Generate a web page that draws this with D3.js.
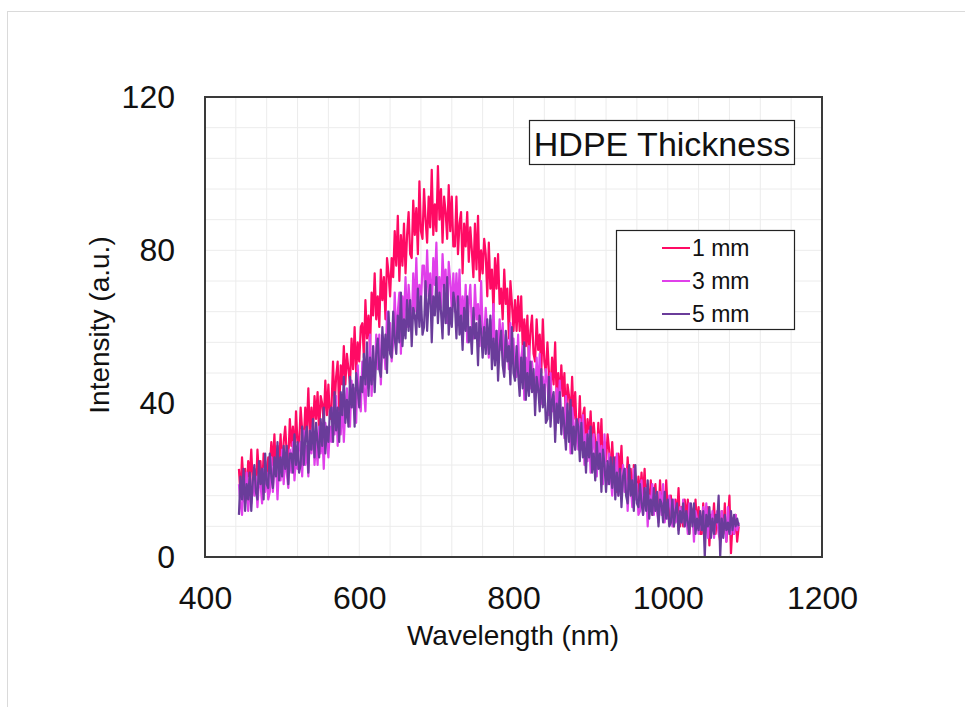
<!DOCTYPE html>
<html>
<head>
<meta charset="utf-8">
<script src="https://cdn.jsdelivr.net/npm/d3@7"></script>
<style>
  body { margin: 0; background: #fff; }
  svg { display: block; font-family: "Liberation Sans", Arial, sans-serif; }
</style>
</head>
<body>
<svg id="chart" width="965" height="707"></svg>
<script>
// wavelength grid of the spectrometer, 2 nm spacing (444 .. 1092 nm)
const wavelengths = d3.range(444, 1093, 2);

// intensities, one value per wavelength (20 per row = 40 nm)
const int1mm = [
  23, 16, 26, 19, 23, 15, 25, 21, 28, 19, 23, 17, 28, 21, 25, 17, 27, 25, 20, 26,
  23, 30, 24, 32, 22, 29, 24, 32, 22, 30, 34, 27, 25, 36, 29, 34, 26, 38, 30, 29,
  39, 33, 30, 39, 33, 44, 31, 39, 33, 42, 36, 43, 32, 42, 40, 35, 46, 37, 45, 36,
  39, 51, 39, 47, 51, 38, 50, 45, 55, 45, 53, 49, 45, 57, 49, 60, 48, 56, 51, 60,
  61, 52, 67, 57, 63, 54, 69, 63, 74, 62, 68, 60, 75, 67, 73, 62, 78, 74, 68, 78,
  73, 85, 76, 89, 72, 84, 76, 87, 74, 84, 90, 79, 78, 93, 84, 91, 79, 98, 85, 83,
  96, 88, 82, 94, 86, 101, 84, 92, 85, 102, 88, 96, 82, 94, 90, 83, 97, 85, 94, 81,
  81, 94, 79, 87, 90, 74, 87, 81, 90, 77, 86, 80, 73, 87, 75, 89, 72, 80, 74, 83,
  79, 68, 82, 70, 75, 64, 78, 70, 79, 66, 70, 62, 75, 66, 70, 57, 72, 66, 59, 67,
  59, 68, 59, 68, 54, 62, 55, 63, 51, 59, 63, 53, 51, 62, 54, 58, 48, 62, 51, 48,
  56, 48, 43, 52, 45, 56, 41, 48, 41, 50, 42, 48, 35, 45, 42, 36, 47, 36, 43, 32,
  32, 42, 30, 37, 39, 27, 36, 31, 38, 28, 35, 30, 25, 35, 26, 36, 23, 30, 25, 32,
  28, 21, 30, 22, 26, 17, 27, 22, 29, 19, 23, 17, 26, 19, 23, 14, 24, 21, 15, 21,
  16, 22, 16, 23, 13, 19, 13, 20, 11, 17, 19, 13, 11, 20, 13, 17, 10, 20, 12, 10,
  16, 11, 8, 15, 10, 18, 8, 13, 8, 15, 10, 15, 6, 13, 12, 7, 15, 8, 13, 6,
  6, 14, 5, 10, 13, 3, 11, 8, 14, 6, 11, 7, 4, 12, 6, 14, 4, 9, 16, 1,
  9, 6, 11, 4, 8
];
const int3mm = [
  19, 14, 11, 19, 14, 22, 12, 18, 14, 21, 16, 21, 13, 20, 19, 14, 23, 17, 22, 15,
  17, 26, 17, 23, 25, 15, 24, 20, 28, 19, 26, 22, 18, 28, 22, 30, 20, 26, 23, 29,
  30, 21, 33, 24, 29, 21, 33, 27, 35, 24, 30, 24, 34, 27, 33, 23, 35, 31, 26, 34,
  30, 39, 32, 42, 29, 38, 32, 41, 30, 39, 44, 35, 34, 46, 39, 44, 35, 50, 40, 38,
  51, 44, 38, 50, 44, 58, 42, 51, 46, 58, 49, 58, 45, 57, 55, 49, 64, 54, 61, 51,
  56, 69, 56, 64, 69, 53, 68, 62, 73, 60, 71, 65, 60, 74, 64, 78, 63, 71, 66, 76,
  76, 65, 80, 68, 74, 64, 78, 71, 82, 67, 73, 65, 79, 70, 75, 61, 77, 72, 64, 74,
  64, 74, 64, 75, 59, 68, 61, 71, 56, 66, 71, 60, 57, 71, 62, 66, 55, 72, 59, 57,
  65, 58, 52, 62, 55, 66, 52, 59, 53, 62, 54, 61, 48, 58, 56, 49, 61, 51, 57, 47,
  47, 58, 45, 52, 55, 41, 52, 46, 55, 44, 51, 46, 41, 52, 43, 53, 40, 47, 41, 49,
  46, 37, 48, 38, 42, 33, 44, 38, 46, 34, 38, 31, 42, 34, 38, 27, 39, 35, 28, 36,
  28, 36, 28, 37, 24, 32, 25, 33, 22, 29, 32, 23, 21, 32, 24, 29, 19, 32, 21, 19,
  27, 21, 16, 24, 19, 27, 16, 22, 17, 24, 17, 23, 12, 20, 19, 13, 23, 15, 19, 11,
  12, 20, 11, 16, 18, 8, 16, 13, 19, 11, 16, 12, 9, 17, 11, 19, 9, 13, 10, 16,
  13, 8, 15, 9, 12, 7, 13, 9, 15, 8, 11, 6, 14, 9, 12, 4, 12, 10, 6, 11,
  7, 13, 8, 14, 5, 11, 7, 12, 5, 10, 12, 6, 5, 12, 7, 10, 4, 13, 7, 6,
  10, 6, 11, 7, 9
];
const int5mm = [
  11, 21, 15, 23, 12, 19, 15, 22, 12, 20, 24, 17, 15, 25, 19, 23, 15, 27, 19, 18,
  27, 21, 18, 26, 21, 30, 20, 26, 21, 29, 23, 29, 19, 27, 27, 22, 32, 24, 30, 22,
  24, 34, 24, 31, 34, 22, 33, 28, 36, 26, 35, 30, 26, 36, 29, 39, 27, 34, 30, 38,
  39, 30, 43, 33, 39, 30, 43, 37, 47, 35, 41, 34, 47, 39, 45, 34, 48, 44, 39, 47,
  43, 53, 45, 56, 42, 52, 45, 55, 43, 53, 57, 49, 47, 60, 52, 58, 48, 64, 53, 52,
  64, 57, 53, 63, 56, 69, 55, 62, 57, 67, 59, 67, 55, 65, 63, 58, 70, 60, 68, 58,
  60, 72, 59, 67, 71, 56, 68, 63, 73, 61, 69, 64, 57, 71, 61, 73, 58, 65, 60, 69,
  66, 57, 68, 58, 63, 54, 65, 59, 68, 56, 60, 53, 65, 57, 61, 50, 63, 59, 52, 60,
  53, 62, 53, 63, 49, 57, 50, 59, 46, 55, 59, 50, 47, 59, 51, 55, 45, 60, 48, 46,
  55, 48, 42, 52, 44, 56, 41, 48, 42, 51, 43, 49, 37, 47, 44, 38, 49, 39, 45, 35,
  36, 47, 34, 41, 43, 30, 40, 35, 43, 32, 39, 34, 28, 40, 30, 41, 27, 34, 28, 36,
  34, 25, 35, 26, 30, 22, 32, 26, 34, 22, 27, 20, 30, 23, 27, 17, 28, 24, 17, 25,
  19, 26, 18, 26, 15, 22, 16, 23, 13, 21, 23, 16, 14, 24, 16, 20, 12, 24, 14, 13,
  19, 14, 11, 18, 12, 20, 10, 15, 11, 18, 12, 17, 8, 15, 14, 9, 17, 10, 15, 8,
  9, 15, 8, 12, 14, 6, 12, 9, 14, 8, 12, 9, 6, 14, 8, 14, 6, 10, 7, 12,
  7, 12, 0, 11, 8, 13, 5, 10, 6, 11, 9, 16, 0, 10, 5, 11, 7, 9, 6, 12,
  7, 11, 8, 10, 8
];

const seriesNames = ["1 mm", "3 mm", "5 mm"];
const seriesColors = ["#ff0a64", "#e040ea", "#6a3c9a"];
const xTicks = [400, 600, 800, 1000, 1200];
const yTicks = [0, 40, 80, 120];

const series = [int1mm, int3mm, int5mm].map((vals, i) => ({
  name: seriesNames[i],
  color: seriesColors[i],
  values: vals.map((v, j) => ({ wl: wavelengths[j], v: v }))
}));

const svg = d3.select("#chart");

// faint outer frame of the original slide
svg.append("rect")
  .attr("x", 7.5).attr("y", 11.5)
  .attr("width", 1000).attr("height", 1000)
  .attr("fill", "none")
  .attr("stroke", "#dadada");

const margin = { top: 97, left: 205 };
const width = 617, height = 460;

const g = svg.append("g")
  .attr("transform", `translate(${margin.left},${margin.top})`);

const x = d3.scaleLinear().domain([400, 1200]).range([0, width]);
const y = d3.scaleLinear().domain([0, 120]).range([height, 0]);

// light grid, 40 nm and 8 a.u. spacing
g.append("g")
  .selectAll("line")
  .data(d3.range(440, 1200, 40))
  .join("line")
  .attr("x1", d => x(d)).attr("x2", d => x(d))
  .attr("y1", 0).attr("y2", height)
  .attr("stroke", "#ececec");
g.append("g")
  .selectAll("line")
  .data(d3.range(8, 120, 8))
  .join("line")
  .attr("y1", d => y(d)).attr("y2", d => y(d))
  .attr("x1", 0).attr("x2", width)
  .attr("stroke", "#ececec");

const line = d3.line()
  .x(d => x(d.wl))
  .y(d => y(d.v));

g.selectAll(".spec")
  .data(series)
  .join("path")
  .attr("class", "spec")
  .attr("d", d => line(d.values))
  .attr("fill", "none")
  .attr("stroke", d => d.color)
  .attr("stroke-width", 2.2)
  .attr("stroke-linejoin", "round");

// plot frame
g.append("rect")
  .attr("width", width).attr("height", height)
  .attr("fill", "none")
  .attr("stroke", "#3a3a3a")
  .attr("stroke-width", 2);

// axes: labels only, no tick marks
const gx = g.append("g")
  .attr("transform", `translate(0,${height})`)
  .call(d3.axisBottom(x).tickValues(xTicks).tickFormat(d3.format("d")).tickSize(0).tickPadding(28));
const gy = g.append("g")
  .call(d3.axisLeft(y).tickValues(yTicks).tickSize(0).tickPadding(30));
[gx, gy].forEach(a => {
  a.select(".domain").remove();
  a.selectAll("text")
    .attr("font-family", "Liberation Sans, Arial, sans-serif")
    .attr("font-size", 32)
    .attr("fill", "#111");
});
gx.selectAll("text").attr("dy", "0.75em");

svg.append("text")
  .attr("x", 513).attr("y", 645)
  .attr("text-anchor", "middle")
  .attr("font-size", 28)
  .attr("fill", "#111")
  .text("Wavelength (nm)");

svg.append("text")
  .attr("transform", "translate(109,325) rotate(-90)")
  .attr("text-anchor", "middle")
  .attr("font-size", 28)
  .attr("fill", "#111")
  .text("Intensity (a.u.)");

// title box
svg.append("rect")
  .attr("x", 529.5).attr("y", 120.5)
  .attr("width", 265).attr("height", 44)
  .attr("fill", "#fff")
  .attr("stroke", "#222")
  .attr("stroke-width", 1.2);
svg.append("text")
  .attr("x", 662).attr("y", 156)
  .attr("text-anchor", "middle")
  .attr("font-size", 34)
  .attr("fill", "#111")
  .text("HDPE Thickness");

// legend
const legend = svg.append("g");
legend.append("rect")
  .attr("x", 616.5).attr("y", 230.5)
  .attr("width", 178).attr("height", 99)
  .attr("fill", "#fff")
  .attr("stroke", "#222")
  .attr("stroke-width", 1.2);
const items = legend.selectAll(".item")
  .data(series)
  .join("g")
  .attr("class", "item")
  .attr("transform", (d, i) => `translate(0,${248 + i * 33})`);
items.append("line")
  .attr("x1", 662).attr("x2", 690)
  .attr("stroke", d => d.color)
  .attr("stroke-width", 2);
items.append("text")
  .attr("x", 692).attr("dy", "0.35em")
  .attr("font-size", 23)
  .attr("fill", "#111")
  .text(d => d.name);
</script>
</body>
</html>
